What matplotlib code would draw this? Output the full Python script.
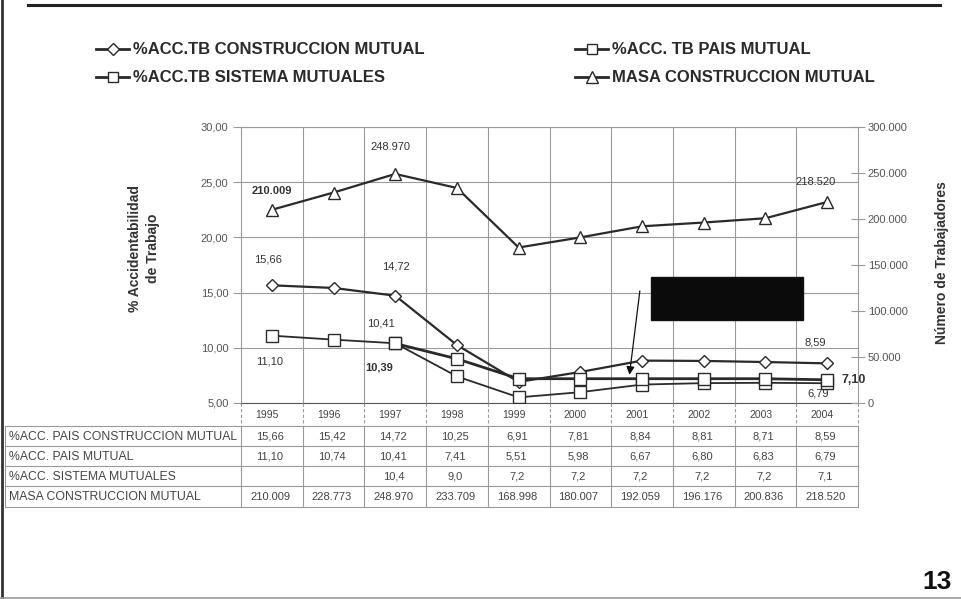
import numpy as np
import matplotlib
matplotlib.use("Agg")
import matplotlib.pyplot as plt
from matplotlib.lines import Line2D
from matplotlib.patches import Rectangle
import matplotlib.transforms as mtrans

plt.rcParams['font.family'] = ['Liberation Sans', 'DejaVu Sans']

# ---------------- data ----------------
years = ["1995", "1996", "1997", "1998", "1999", "2000", "2001", "2002", "2003", "2004"]
acc_construccion = [15.66, 15.42, 14.72, 10.25, 6.91, 7.81, 8.84, 8.81, 8.71, 8.59]
acc_pais = [11.10, 10.74, 10.41, 7.41, 5.51, 5.98, 6.67, 6.80, 6.83, 6.79]
acc_sistema = [np.nan, np.nan, 10.39, 9.0, 7.2, 7.2, 7.2, 7.2, 7.2, 7.10]
masa = [210009, 228773, 248970, 233709, 168998, 180007, 192059, 196176, 200836, 218520]

legend_construccion = "%ACC.TB CONSTRUCCION MUTUAL"
legend_pais = "%ACC. TB PAIS MUTUAL"
legend_sistema = "%ACC.TB SISTEMA MUTUALES"
legend_masa = "MASA CONSTRUCCION MUTUAL"

row_construccion = "%ACC. PAIS CONSTRUCCION MUTUAL"
row_pais = "%ACC. PAIS MUTUAL"
row_sistema = "%ACC. SISTEMA MUTUALES"
row_masa = "MASA CONSTRUCCION MUTUAL"

left_ticks = [5, 10, 15, 20, 25, 30]
right_ticks = [0, 50000, 100000, 150000, 200000, 250000, 300000]


def fmt_dec(v, n=2):
    return f"{v:.{n}f}".replace(".", ",")


def fmt_thou(v):
    return f"{int(v):,}".replace(",", ".")


W, H = 961, 599
fig = plt.figure(figsize=(W / 100, H / 100), dpi=100)
fig.patch.set_facecolor("white")


def fx(x):
    return x / W


def fy(y):
    return 1 - y / H


LINE = "#2a2a2a"
GRID = "#9a9a9a"
TXT = "#555555"

# ---------------- main axes ----------------
ax_l, ax_r, ax_t, ax_b = 241, 858, 127, 403
ax = fig.add_axes([fx(ax_l), fy(ax_b), fx(ax_r - ax_l), (ax_b - ax_t) / H])
ax.set_xlim(-0.5, len(years) - 0.5)
ax.set_ylim(5, 30)
ax.set_yticks(left_ticks)
ax.set_yticklabels([fmt_dec(t) for t in left_ticks])
ax.set_xticks([])
ax.set_xticks(np.arange(len(years) - 1) + 0.5, minor=True)
ax.tick_params(axis="x", which="minor", length=0)
ax.grid(True, which="major", axis="y", color=GRID, lw=0.8)
ax.grid(True, which="minor", axis="x", color=GRID, lw=0.8)
ax.tick_params(axis="y", direction="out", length=6, width=0.8, color=GRID,
               labelsize=8, labelcolor=TXT, pad=3)
for s in ["left", "right", "top", "bottom"]:
    ax.spines[s].set_color(GRID)
    ax.spines[s].set_linewidth(0.8)
ax.spines["bottom"].set_color("#555555")

x = np.arange(len(years))
mk = dict(markerfacecolor="white", markeredgecolor=LINE, markeredgewidth=1.0)
ax.plot(x, acc_construccion, color=LINE, lw=1.6, marker="D", markersize=6.5, zorder=4, **mk)
ax.plot(x, acc_pais, color=LINE, lw=1.3, marker="s", markersize=8, zorder=4, **mk)
ax.plot(x, acc_sistema, color=LINE, lw=2.0, marker="s", markersize=9, zorder=5, **mk)

ax2 = ax.twinx()
ax2.set_ylim(0, 300000)
ax2.set_yticks(right_ticks)
ax2.set_yticklabels([fmt_thou(t) for t in right_ticks])
ax2.tick_params(axis="y", direction="inout", length=10, width=0.8, color=GRID,
                labelsize=8, labelcolor=TXT, pad=2)
for s in ["left", "right", "top", "bottom"]:
    ax2.spines[s].set_visible(False)
ax2.plot(x, masa, color=LINE, lw=1.6, marker="^", markersize=9, zorder=4, **mk)

# data labels
lab = dict(ha="center", va="center", fontsize=8, color="#333333", textcoords="offset pixels")
ax2.annotate(fmt_thou(masa[0]), (0, masa[0]), xytext=(0, 19), fontweight="bold", **lab)
ax2.annotate(fmt_thou(masa[2]), (2, masa[2]), xytext=(-5, 27), **lab)
ax2.annotate(fmt_thou(masa[9]), (9, masa[9]), xytext=(-12, 20), **lab)
ax.annotate(fmt_dec(acc_construccion[0]), (0, acc_construccion[0]), xytext=(-4, 26), **lab)
ax.annotate(fmt_dec(acc_construccion[2]), (2, acc_construccion[2]), xytext=(1, 29), **lab)
ax.annotate(fmt_dec(acc_construccion[9]), (9, acc_construccion[9]), xytext=(-12, 21), **lab)
ax.annotate(fmt_dec(acc_pais[2]), (2, acc_pais[2]), xytext=(-14, 20), **lab)
ax.annotate(fmt_dec(acc_pais[0]), (0, acc_pais[0]), xytext=(-2, -26), **lab)
ax.annotate(fmt_dec(acc_pais[9]), (9, acc_pais[9]), xytext=(-9, -10), **lab)
ax.annotate(fmt_dec(acc_sistema[2]), (2, acc_sistema[2]), xytext=(-16, -24), fontweight="bold", **lab)
ax.annotate(fmt_dec(acc_sistema[9]), (9, acc_sistema[9]), xytext=(27, 0), fontweight="bold",
            **{**lab, "fontsize": 9})

# black redaction box and arrow
ax.add_patch(Rectangle((6.15, 12.5), 2.46, 3.95, facecolor="#0b0b0b", edgecolor="#111111",
                       zorder=6))
ax.annotate("", xy=(5.79, 7.3), xytext=(5.97, 15.4),
            arrowprops=dict(arrowstyle="-|>", color="#111111", lw=0.9, mutation_scale=12),
            zorder=7)

# axis titles
fig.text(fx(144), fy(248), "% Accidentabilidad\nde Trabajo", rotation=90, ha="center",
         va="center", fontsize=10, fontweight="bold", color="#333333", linespacing=1.45)
fig.text(fx(942), fy(263), "Número de Trabajadores", rotation=90, ha="center", va="center",
         fontsize=10, fontweight="bold", color="#333333")

# ---------------- data table ----------------
tb_top, tb_bot = 403, 508
axt = fig.add_axes([fx(ax_l), fy(tb_bot), fx(ax_r - ax_l), (tb_bot - tb_top) / H])
axt.set_xlim(-0.5, len(years) - 0.5)
axt.set_ylim(tb_bot - tb_top, 0)
axt.axis("off")
blend = mtrans.blended_transform_factory(axt.transAxes, axt.transData)
left_edge = (5 - ax_l) / (ax_r - ax_l)
row_edges = [23, 43, 63, 83, 104]
for ry in row_edges:
    axt.plot([left_edge, 1.0], [ry, ry], transform=blend, color=GRID, lw=0.8, clip_on=False)
axt.plot([left_edge, left_edge], [23, 104], transform=blend, color=GRID, lw=0.8, clip_on=False)
for bx in np.arange(len(years) + 1) - 0.5:
    axt.plot([bx, bx], [0, 23], color=GRID, lw=0.8, ls=(0, (3, 2)), clip_on=False)
    axt.plot([bx, bx], [23, 104], color=GRID, lw=0.8, clip_on=False)

tk = dict(ha="center", va="center", fontsize=8, color="#444444")
rows = [
    (row_construccion, [fmt_dec(v) for v in acc_construccion]),
    (row_pais, [fmt_dec(v) for v in acc_pais]),
    (row_sistema, ["" if np.isnan(v) else fmt_dec(v, 1) for v in acc_sistema]),
    (row_masa, [fmt_thou(v) for v in masa]),
]
for i, yr in enumerate(years):
    axt.text(i - 0.08, 12, yr, **{**tk, "fontsize": 7.5})
for r, (name, vals) in enumerate(rows):
    cy = (row_edges[r] + row_edges[r + 1]) / 2 + 0.5
    axt.text((9 - ax_l) / (ax_r - ax_l), cy, name, transform=blend, ha="left", va="center",
             fontsize=8.8, color="#444444", clip_on=False)
    for i, v in enumerate(vals):
        axt.text(i - 0.03, cy, v, **tk)

# ---------------- legend (manual) ----------------
def legend_item(x0, x1, y, marker, ms, label, tx):
    fig.add_artist(Line2D([fx(x0), fx(x1)], [fy(y), fy(y)], transform=fig.transFigure,
                          color=LINE, lw=2.0))
    fig.add_artist(Line2D([fx((x0 + x1) / 2)], [fy(y)], transform=fig.transFigure,
                          marker=marker, markersize=ms, markerfacecolor="white",
                          markeredgecolor=LINE, markeredgewidth=1.0, lw=0))
    fig.text(fx(tx), fy(y), label, ha="left", va="center", fontsize=12, fontweight="bold",
             color="#2a2a2a")

legend_item(96, 129, 49, "D", 6, legend_construccion, 133)
legend_item(96, 129, 77, "s", 7.5, legend_sistema, 133)
legend_item(575, 608, 49, "s", 7.5, legend_pais, 612)
legend_item(575, 608, 77, "^", 8, legend_masa, 612)

# ---------------- page decorations ----------------
fig.add_artist(Line2D([fx(28), fx(940)], [fy(5), fy(5)], transform=fig.transFigure,
                      color="#222222", lw=2.2))
fig.add_artist(Line2D([fx(1.5), fx(1.5)], [0, 1], transform=fig.transFigure,
                      color="#333333", lw=2.0))
fig.add_artist(Line2D([0, 1], [fy(597.5), fy(597.5)], transform=fig.transFigure,
                      color="#999999", lw=1.2))
fig.text(fx(952), fy(594), "13", ha="right", va="bottom", fontsize=19, fontweight="bold",
         color="#111111")

fig.savefig("out.png", dpi=100, facecolor="white")
